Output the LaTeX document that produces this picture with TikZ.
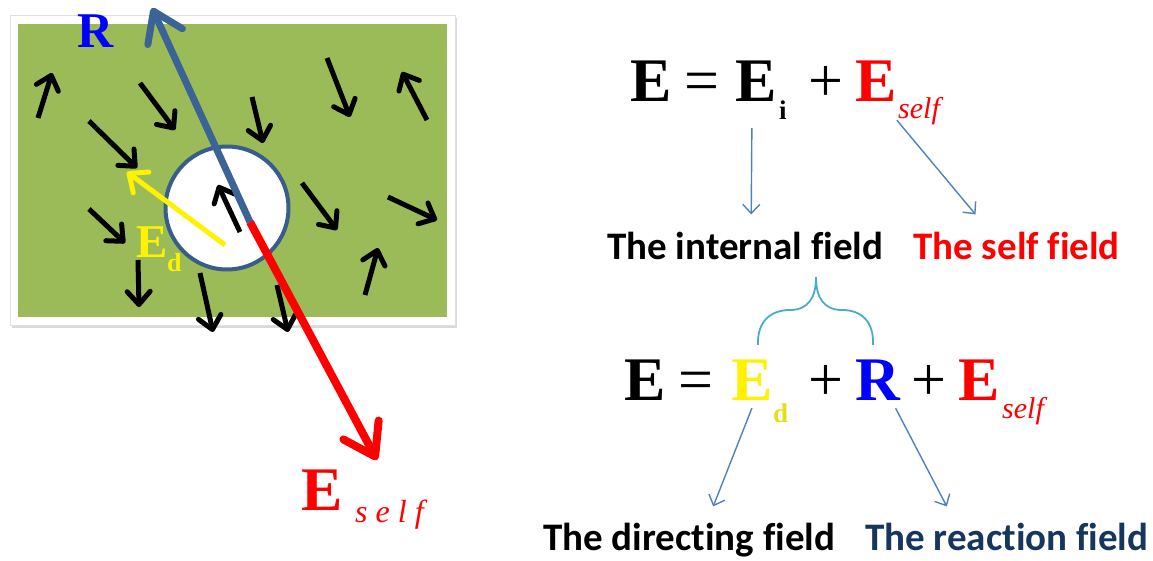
\documentclass[tikz,border=0pt]{standalone}
\usepackage{fontspec}
\setmainfont{Liberation Serif}
\newfontfamily\labelfont[Ligatures=NoCommon]{Carlito}
\usetikzlibrary{positioning, arrows.meta, shadows, calc}

\definecolor{fieldgreen}{RGB}{155,187,89}
\definecolor{cavityblue}{RGB}{56,93,138}
\definecolor{rblue}{RGB}{59,99,150}
\definecolor{linkblue}{RGB}{79,129,189}
\definecolor{bracecyan}{RGB}{75,172,198}
\definecolor{navy}{RGB}{23,54,93}

\begin{document}
\begin{tikzpicture}[x=1pt, y=-1pt,
    dipole/.style={line width=5pt, -{Straight Barb[round, length=13pt, width=23pt]}},
    cavity/.style={circle, draw=cavityblue, line width=4pt, fill=white,
                   minimum size=123pt, inner sep=0pt},
    link/.style={linkblue, line width=1.4pt, -{Straight Barb[length=9pt, width=17pt]}},
    eqbf/.style={font=\fontsize{62}{62}\selectfont\bfseries, inner sep=0pt, anchor=base west},
    eqrm/.style={font=\fontsize{62}{62}\selectfont, inner sep=0pt, anchor=base west},
    subbf/.style={font=\fontsize{27}{27}\selectfont\bfseries, inner sep=0pt, anchor=base west},
    selfit/.style={font=\fontsize{30}{30}\selectfont\itshape, inner sep=0pt, anchor=base west},
    lbl/.style={font=\labelfont\fontsize{39}{39}\selectfont\bfseries, inner sep=0pt, anchor=base west},
  ]
  \useasboundingbox (0,0) rectangle (1153,561);
  % dielectric slab
  \filldraw[fill=white, draw=black!12, line width=0.8pt,
    drop shadow={shadow xshift=2pt, shadow yshift=-3pt, opacity=0.3}]
    (10,15) rectangle (455,325);
  \fill[fieldgreen] (18,24) rectangle (447,317);
  % dipoles of the medium
  \foreach \xa/\ya/\xb/\yb in {38/118/52/73, 140/83/175/130, 89/121/137/168,
      252/97/263/143, 327/58/350/117, 427/120/402/72, 302/183/337/230,
      388/197/437/220, 89/209/125/243, 365/295/378/248, 138/260/139/307,
      200/273/213/332, 277/285/288/332}
    \draw[dipole] (\xa,\ya) -- (\xb,\yb);
  % the cavity
  \node[cavity] (cavity) at (227,208) {};
  \draw[dipole] (240,232) -- (218,185);
  \coordinate (split) at (250,222);
  % fields on the left
  \draw[yellow, line width=5pt, -{Straight Barb[round, length=15pt, width=26pt]}]
    (225,245) -- (127,172);
  \draw[rblue, line width=7pt, -{Straight Barb[round, length=28pt, width=38pt]}]
    (split) -- (152,8);
  \draw[red, line width=8pt, -{Straight Barb[round, length=30pt, width=40pt]}]
    (split) -- (377,460);
  \node[font=\fontsize{50}{50}\selectfont\bfseries, text=blue, inner sep=0pt, anchor=base west]
    (Rlab) at (77,48) {R};
  \node[font=\fontsize{47}{47}\selectfont\bfseries, text=yellow, inner sep=0pt, anchor=base west]
    (Edlab) at (136,258) {E};
  \node[font=\fontsize{26}{26}\selectfont\bfseries, text=yellow, inner sep=0pt, anchor=base west]
    (dlab) at (167,271) {d};
  \node[eqbf, text=red] (Eslab) at (301,510) {E};
  \node[font=\fontsize{32}{32}\selectfont\itshape, text=red, inner sep=0pt, anchor=base west]
    (selflab) at (355,522) {s\hspace{8pt}e\hspace{8pt}l\hspace{8pt}f};

  % first equation
  \node[eqbf] (e1lhs) at (630,102) {E};
  \node[eqrm] (e1eq) at (684,102) {=};
  \node[eqbf] (Ei) at (735,102) {E};
  \node[subbf] (isub) at (779,120) {i};
  \node[eqrm] (e1plus) at (808,102) {+};
  \node[eqbf, text=red] (Eself1) at (855,102) {E};
  \node[selfit, text=red] (self1) at (898,119) {self};
  \node[lbl] (internal) at (607,260) {The internal field};
  \node[lbl, text=red] (selffield) at (913,260) {The self field};
  \draw[link] ([xshift=-4pt, yshift=-26pt]Ei.south) -- ([xshift=6pt, yshift=18pt]internal.north);
  \draw[link] ([xshift=21pt, yshift=-18pt]Eself1.south) -- ([xshift=-41pt, yshift=18pt]selffield.north);

  % brace
  \draw[bracecyan, line width=1.8pt]
    (758,345) .. controls (757,322) and (770,310) .. (790,310)
    .. controls (808,310) and (816,298) .. (816,277)
    .. controls (816,298) and (824,310) .. (842,310)
    .. controls (862,310) and (874,322) .. (873,345);

  % second equation
  \node[eqbf] (e2lhs) at (624,400) {E};
  \node[eqrm] (e2eq) at (678,400) {=};
  \node[eqbf, text=yellow] (Ed) at (731,400) {E};
  \node[subbf, text=yellow!90!black] (dsub) at (773,422) {d};
  \node[eqrm] (e2plus1) at (808,400) {+};
  \node[eqbf, text=blue] (Rterm) at (855,400) {R};
  \node[eqrm] (e2plus2) at (911,400) {+};
  \node[eqbf, text=red] (Eself2) at (958,400) {E};
  \node[selfit, text=red] (self2) at (1002,418) {self};
  \node[lbl] (directing) at (543,550) {The directing field};
  \node[lbl, text=navy] (reaction) at (865,550) {The reaction field};
  \draw[link] ([yshift=-8pt]Ed.south) -- ([xshift=24pt, yshift=16pt]directing.north);
  \draw[link] ([xshift=18pt, yshift=-8pt]Rterm.south) -- ([xshift=-60pt, yshift=16pt]reaction.north);
\end{tikzpicture}
\end{document}
